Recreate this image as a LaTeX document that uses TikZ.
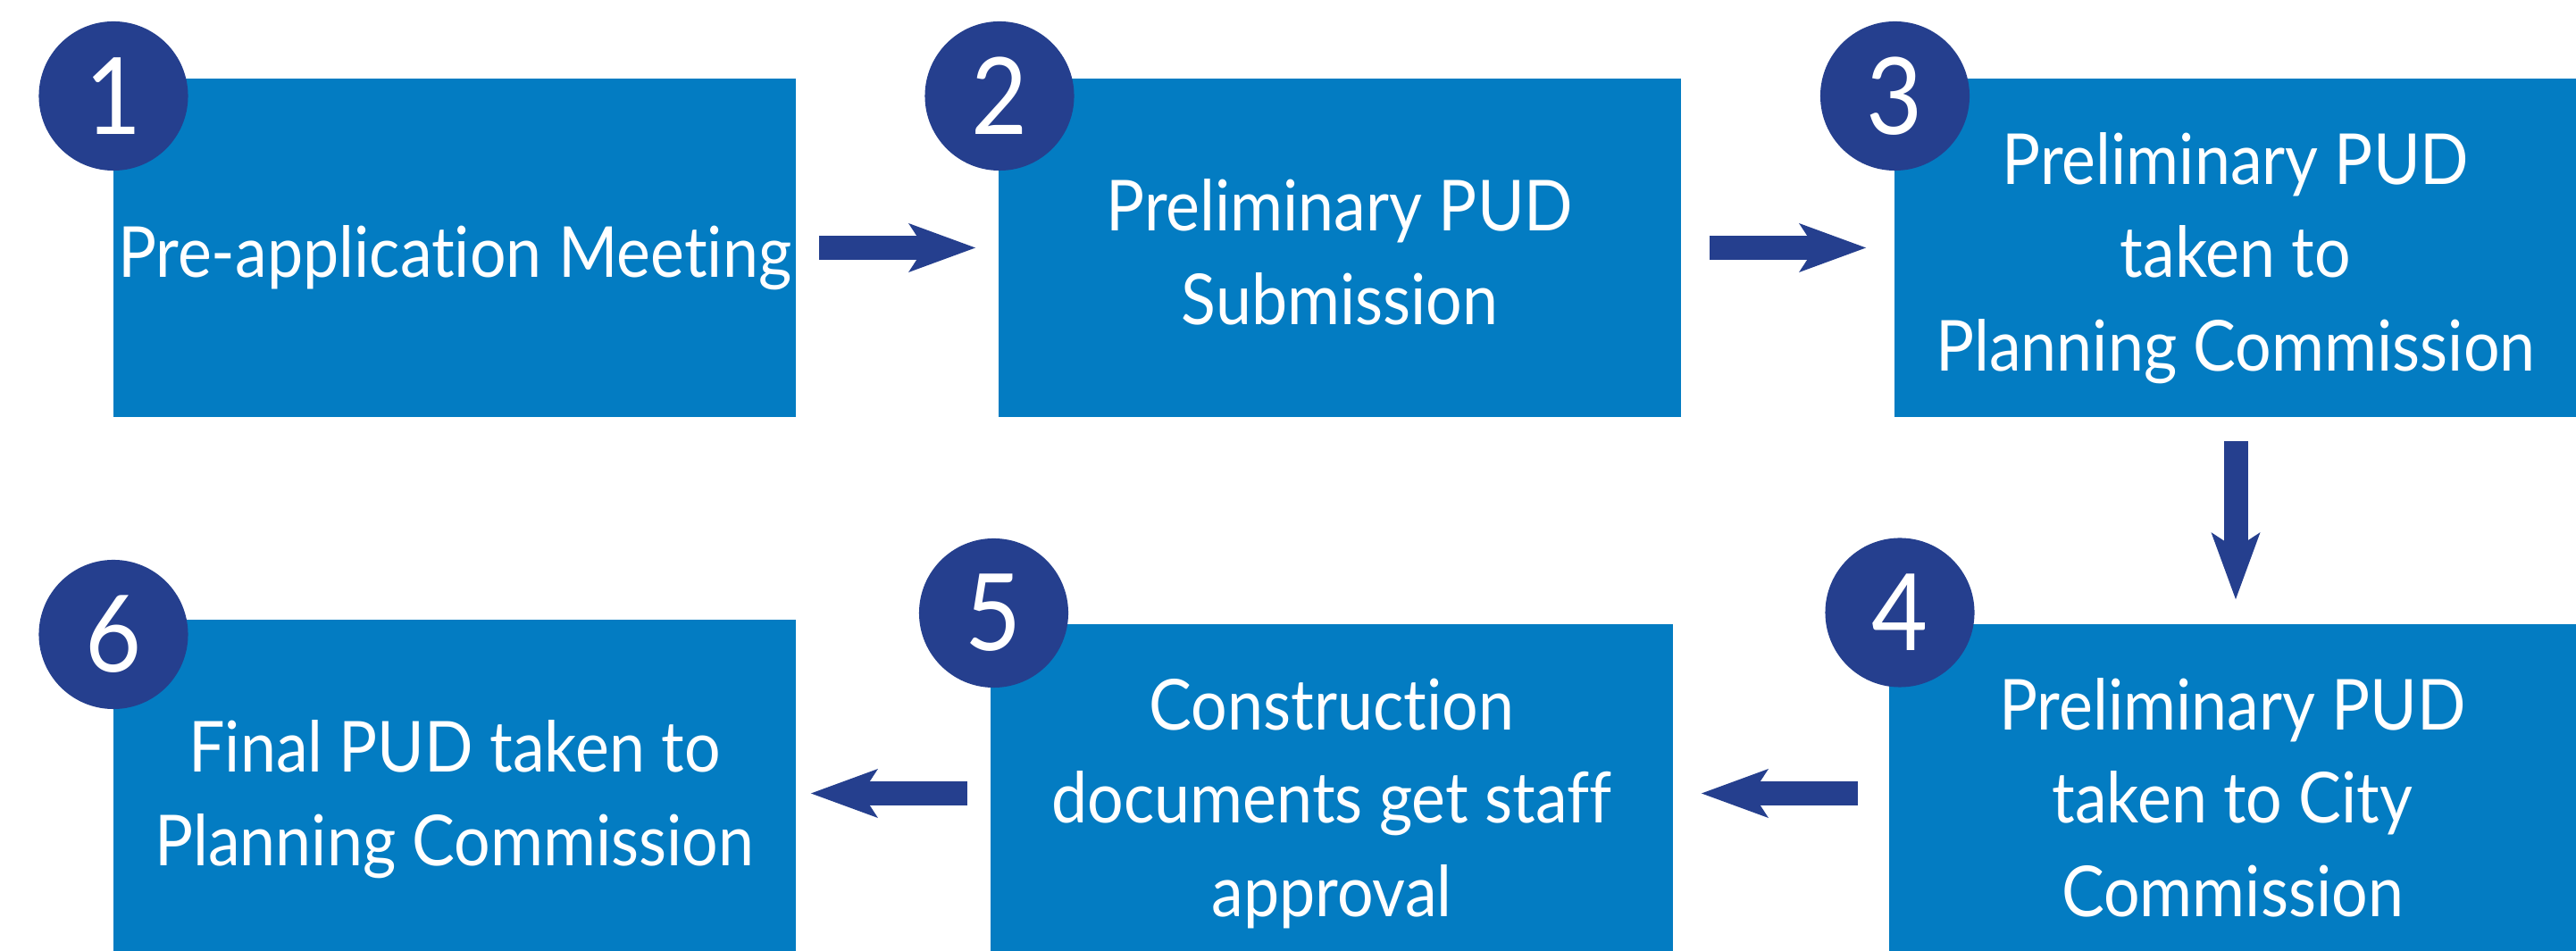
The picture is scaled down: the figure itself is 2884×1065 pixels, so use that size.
\documentclass[tikz,border=0pt]{standalone}
\usepackage{fontspec}
\newfontfamily\boxfont[FakeStretch=0.91, Ligatures=NoCommon]{Lato}
\usetikzlibrary{arrows.meta}
\definecolor{boxblue}{HTML}{037CC2}
\definecolor{navy}{HTML}{253F8E}
\begin{document}
\begin{tikzpicture}[x=0.01cm,y=-0.01cm,
  stepbox/.style={rectangle, fill=boxblue, inner sep=0pt, minimum width=7.64cm, minimum height=3.79cm},
  steptext/.style={text=white, align=center, inner sep=0pt, font=\boxfont\fontsize{22.4}{29.7}\selectfont, yshift=-0.126cm},
  badge/.style={circle, fill=navy, inner sep=0pt, minimum size=1.67cm, text=white, font=\boxfont\fontsize{34}{40}\selectfont},
  flow/.style={draw=navy, line width=0.27cm, -{Stealth[length=0.75cm, width=0.55cm, inset=0.18cm, line width=0pt]}}
]
\useasboundingbox (0,0) rectangle (2884,1065);
\clip (0,0) rectangle (2884,1065);
\fill[white] (0,0) rectangle (2884,1065);

% boxes
\node[stepbox] (b1) at (509,277.5) {};
\node[stepbox] (b2) at (1500,277.5) {};
\node[stepbox] (b3) at (2503,277.5) {};
\node[stepbox, minimum width=7.69cm] (b4) at (2499.5,888.5) {};
\node[stepbox] (b5) at (1491,888.5) {};
\node[stepbox] (b6) at (509,883.5) {};

% texts
\node[steptext] (t1) at (b1.center) {\strut Pre-application Meeting\strut};
\node[steptext] (t2) at (b2.center) {\strut Preliminary PUD\\Submission\strut};
\node[steptext] (t3) at (b3.center) {\strut Preliminary PUD\\taken to\\Planning Commission\strut};
\node[steptext] (t4) at (b4.center) {\strut Preliminary PUD\\taken to City\\Commission\strut};
\node[steptext] (t5) at (b5.center) {\strut Construction\\documents get staff\\approval\strut};
\node[steptext] (t6) at (b6.center) {\strut Final PUD taken to\\Planning Commission\strut};

% badges
\node[badge] (n1) at (127,107.5) {1};
\node[badge] (n2) at (1119,107.5) {2};
\node[badge] (n3) at (2121.5,107.5) {3};
\node[badge] (n4) at (2127,686) {4};
\node[badge] (n5) at (1112.5,686.5) {5};
\node[badge] (n6) at (127,710.5) {6};

% arrows
\draw[flow, shorten <=0.25cm, shorten >=0.25cm] (b1) -- (b2);
\draw[flow, shorten <=0.31cm, shorten >=0.31cm] (b2) -- (b3);
\draw[flow, shorten <=0.26cm, shorten >=0.27cm] (b3.south) -- (b3.south |- b4.north);
\draw[flow, shorten <=0.34cm, shorten >=0.31cm] (b4) -- (b5);
\draw[flow, shorten <=0.25cm, shorten >=0.16cm] (b5.west) -- (b5.west -| b6.east);
\end{tikzpicture}
\end{document}
